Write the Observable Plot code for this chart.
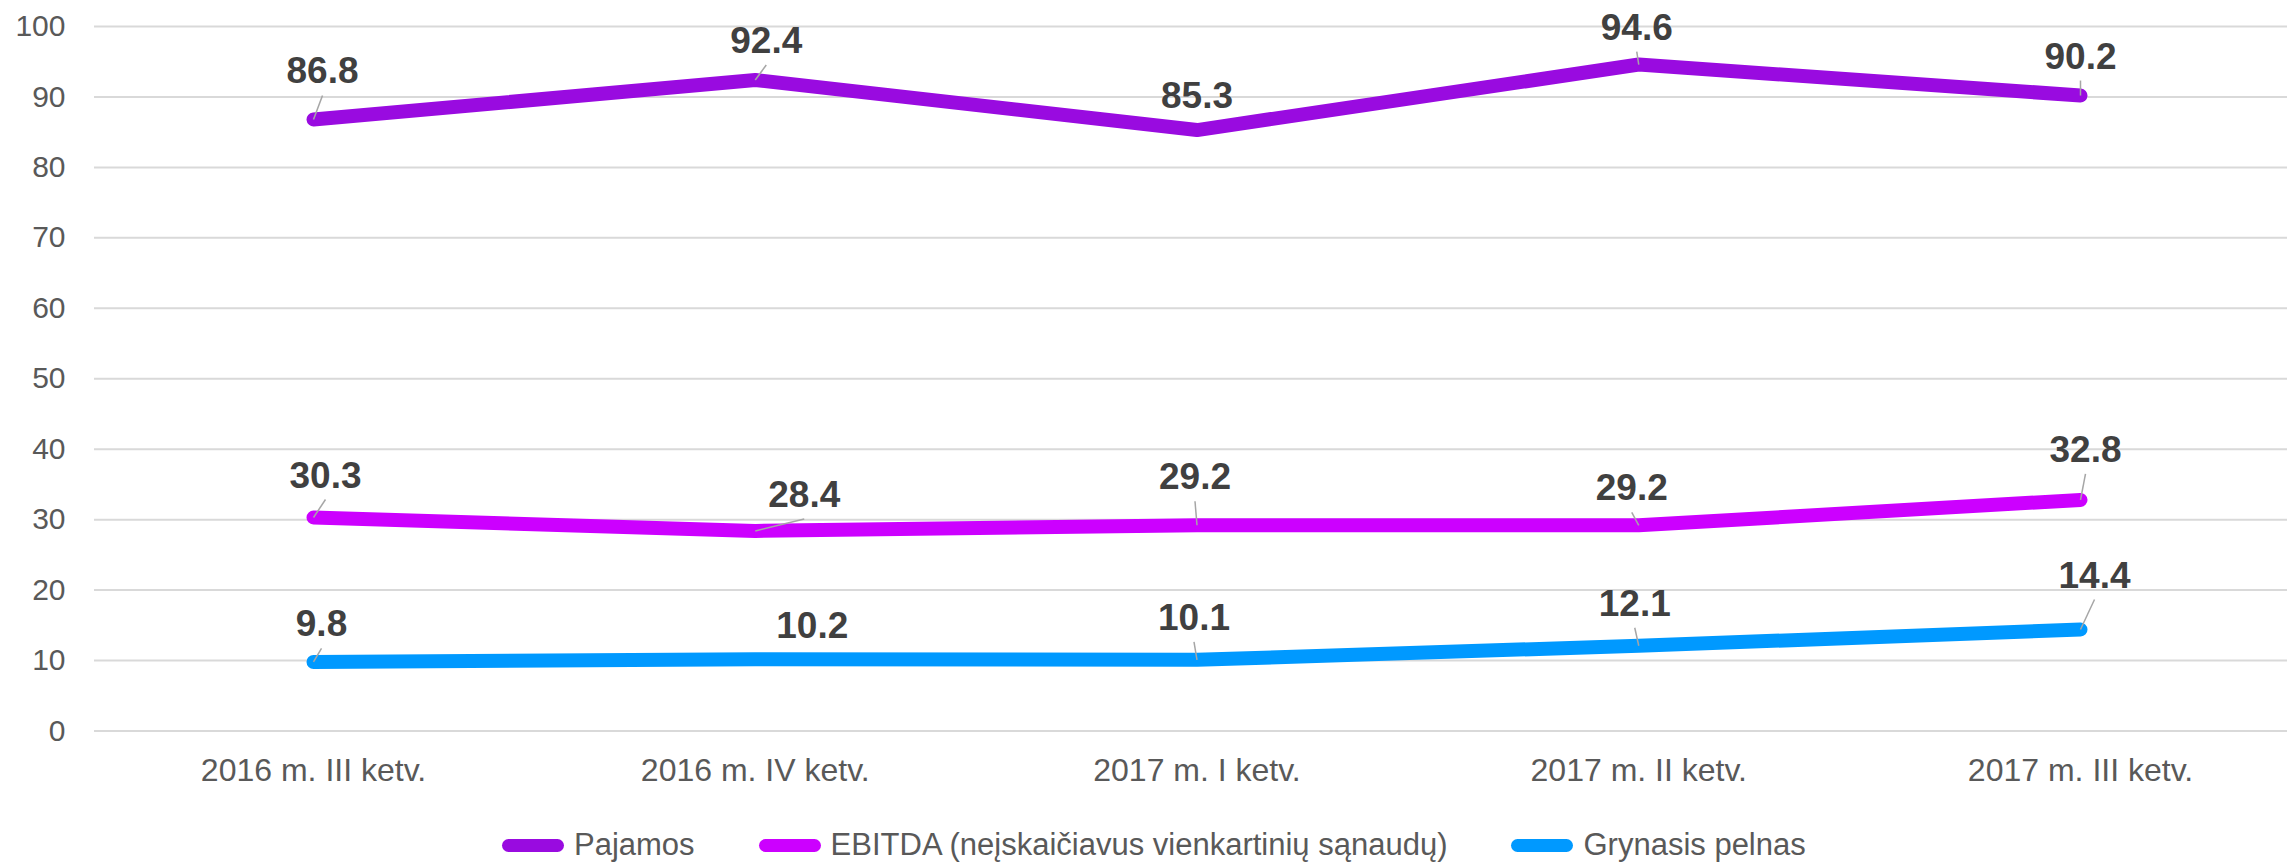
<!DOCTYPE html>
<html>
<head>
<meta charset="utf-8">
<script src="https://cdn.jsdelivr.net/npm/d3@7"></script>
<script src="https://cdn.jsdelivr.net/npm/@observablehq/plot@0.6"></script>
<style>
  html, body { margin: 0; padding: 0; background: #fff; }
  #wrap { position: relative; width: 2287px; height: 862px; font-family: "Liberation Sans", Arial, sans-serif; }
  #legend { position: absolute; left: 502px; top: 820px; height: 50px; display: flex; align-items: center; gap: 64px; }
  .item { display: flex; align-items: center; gap: 10px; font-size: 31px; color: #595959; }
  .sw { width: 62px; height: 13px; border-radius: 6.5px; }
</style>
</head>
<body>
<div id="wrap"><div id="chart"></div><div id="legend"></div></div>
<script>
const categories = ["2016 m. III ketv.", "2016 m. IV ketv.", "2017 m. I ketv.", "2017 m. II ketv.", "2017 m. III ketv."];
const pajamos = [86.8, 92.4, 85.3, 94.6, 90.2];
const ebitda = [30.3, 28.4, 29.2, 29.2, 32.8];
const grynasis = [9.8, 10.2, 10.1, 12.1, 14.4];
const seriesNames = ["Pajamos", "EBITDA (neįskaičiavus vienkartinių sąnaudų)", "Grynasis pelnas"];
const seriesColors = ["#990be0", "#cc00ff", "#0099ff"];
const yTicks = [0, 10, 20, 30, 40, 50, 60, 70, 80, 90, 100];
// label placement (pixels, baseline-centre relative to the point), like the moved Excel labels
const labelOffsets = [
  [[9, -36], [11, -27], [0, -22.5], [-2, -25], [0, -27]],
  [[12, -30], [49, -24], [-2, -36], [-7, -25], [5, -38]],
  [[8, -25.5], [57, -21.6], [-3, -30], [-4, -30], [14, -42]]
];
const leaderShown = [
  [true, true, false, true, true],
  [true, true, true, true, true],
  [true, false, true, true, true]
];

const W = 2287, H = 810;
const mLeft = 94, mTop = 26, mBottom = H - 730.5;
const xRange = [313, 2080];
const pxX = (xRange[1] - xRange[0]) / (categories.length - 1);
const pxY = (H - mBottom - mTop) / 100;

const seriesValues = [pajamos, ebitda, grynasis];
const rows = [];
seriesValues.forEach((vals, s) => vals.forEach((v, i) => {
  const [dx, dy] = labelOffsets[s][i];
  rows.push({
    i, value: v, series: seriesNames[s], label: v.toFixed(1),
    lx: i + dx / pxX, ly: v - dy / pxY,
    ex: i + dx / pxX, ey: v - (dy + 12) / pxY,
    leader: leaderShown[s][i]
  });
}));

const chart = Plot.plot({
  width: W, height: H,
  marginLeft: mLeft, marginRight: 0, marginTop: mTop, marginBottom: mBottom,
  style: { fontFamily: "'Liberation Sans', Arial, sans-serif", color: "#595959", background: "#fff" },
  x: { type: "linear", domain: [0, categories.length - 1], range: xRange },
  y: { domain: [0, 100] },
  color: { domain: seriesNames, range: seriesColors },
  marks: [
    Plot.ruleY(yTicks, { stroke: "#d9d9d9", strokeWidth: 2 }),
    Plot.axisY({ ticks: yTicks, tickSize: 0, tickPadding: 29, fontSize: 30, label: null }),
    Plot.axisX({ ticks: d3.range(categories.length), tickFormat: i => categories[i], tickSize: 0, tickPadding: 27, fontSize: 32, label: null }),
    Plot.line(rows, { x: "i", y: "value", z: "series", stroke: "series", strokeWidth: 14, strokeLinecap: "round", strokeLinejoin: "round" }),
    Plot.link(rows.filter(d => d.leader), { x1: "i", y1: "value", x2: "ex", y2: "ey", stroke: "#a6a6a6", strokeWidth: 1.5 }),
    Plot.text(rows, { x: "lx", y: "ly", text: "label", fontSize: 37, fontWeight: "bold", fill: "#404040", textAnchor: "middle", lineAnchor: "bottom" })
  ]
});
document.getElementById("chart").appendChild(chart);

const legend = d3.select("#legend");
seriesNames.forEach((n, s) => {
  const it = legend.append("div").attr("class", "item");
  it.append("div").attr("class", "sw").style("background", seriesColors[s]);
  it.append("span").text(n);
});
</script>
</body>
</html>
